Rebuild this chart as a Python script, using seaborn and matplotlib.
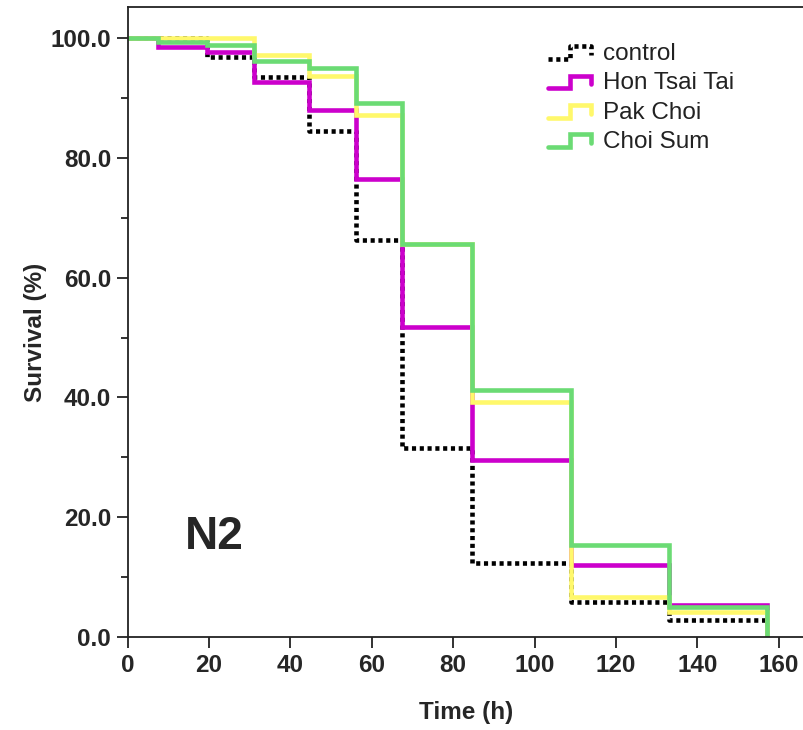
import matplotlib
matplotlib.use('Agg')
import matplotlib.pyplot as plt
import seaborn as sns
import pandas as pd
from matplotlib.lines import Line2D
from matplotlib.legend_handler import HandlerBase
from matplotlib.ticker import FormatStrFormatter, MultipleLocator

# ---- data ----
times = [0, 7.5, 19.5, 31, 44.5, 56, 67.5, 84.5, 109, 133, 157]
control = [100, 100, 96.8, 93.5, 84.5, 66.3, 31.5, 12.4, 5.9, 2.9, 0]
hon_tsai_tai = [100, 98.5, 97.7, 92.7, 88.0, 76.4, 51.8, 29.6, 12.1, 5.4, 0]
pak_choi = [100, 100, 100, 97.2, 93.6, 87.1, 65.6, 39.2, 6.7, 4.2, 0]
choi_sum = [100, 99.3, 98.9, 96.2, 95.0, 89.1, 65.7, 41.2, 15.3, 5.0, 0]
groups = ['control', 'Hon Tsai Tai', 'Pak Choi', 'Choi Sum']
colors = ['#000000', '#CC00CC', '#FFF86B', '#6BDB74']
x_ticks = [0, 20, 40, 60, 80, 100, 120, 140, 160]
y_ticks = [0, 20, 40, 60, 80, 100]

series = [control, hon_tsai_tai, pak_choi, choi_sum]
df = pd.concat([
    pd.DataFrame({'Time (h)': times, 'Survival (%)': vals, 'group': g})
    for g, vals in zip(groups, series)
], ignore_index=True)

sns.set_style('white')
plt.rcParams['font.family'] = ['Liberation Sans', 'DejaVu Sans']

fig = plt.figure(figsize=(8.04, 7.30), dpi=100)
ax = fig.add_axes([127.7 / 804, 1 - 637 / 730, 1 - 127.7 / 804, (637 - 7) / 730])

palette = dict(zip(groups, colors))
dot = (0.9, 0.8)
dashes = {'control': dot, 'Hon Tsai Tai': '', 'Pak Choi': '', 'Choi Sum': ''}
sns.lineplot(data=df, x='Time (h)', y='Survival (%)', hue='group', style='group',
             hue_order=groups, style_order=groups, palette=palette, dashes=dashes,
             drawstyle='steps-post', estimator=None, sort=False, linewidth=3.3,
             legend=False, ax=ax)
for ln in ax.get_lines():
    ln.set_dash_capstyle('butt')
    ln.set_solid_joinstyle('miter')

ax.set_xlim(0, 166.2)
ax.set_ylim(0, 105.2)
ax.set_xticks(x_ticks)
ax.set_yticks(y_ticks)
ax.yaxis.set_minor_locator(MultipleLocator(10))
ax.yaxis.set_major_formatter(FormatStrFormatter('%.1f'))

for s in ['left', 'bottom', 'top']:
    ax.spines[s].set_visible(True)
    ax.spines[s].set_color('#222222')
    ax.spines[s].set_linewidth(1.3)
ax.spines['right'].set_visible(False)

ax.tick_params(axis='both', which='major', direction='out', length=8, width=1.3,
               color='#222222', labelsize=17.5, pad=4)
ax.tick_params(axis='y', which='minor', direction='out', length=5, width=1.3,
               color='#222222', left=True)
ax.tick_params(axis='x', bottom=True)
ax.tick_params(axis='y', left=True)
for lab in ax.get_xticklabels() + ax.get_yticklabels():
    lab.set_fontweight('bold')

ax.set_xlabel('Time (h)', fontsize=17.5, fontweight='bold')
ax.set_ylabel('Survival (%)', fontsize=17.5, fontweight='bold')
ax.xaxis.set_label_coords(0.5, -0.101)
ax.yaxis.set_label_coords(-0.12, 0.484)

ax.text(21.4, 16.7, 'N2', fontsize=33, fontweight='bold', ha='center', va='center')


class StepHandler(HandlerBase):
    def create_artists(self, legend, orig_handle, xdescent, ydescent,
                       width, height, fontsize, trans):
        x0, y0 = -xdescent, -ydescent
        xs = [x0, x0 + 0.52 * width, x0 + 0.52 * width, x0 + width, x0 + width]
        ys = [y0 + 0.05 * height, y0 + 0.05 * height, y0 + 0.8 * height,
              y0 + 0.8 * height, y0 + 0.3 * height]
        line = Line2D(xs, ys)
        self.update_prop(line, orig_handle, legend)
        line.set_transform(trans)
        return [line]


handles = []
for g, c in zip(groups, colors):
    ls = (0, dot) if g == 'control' else '-'
    handles.append(Line2D([], [], color=c, linestyle=ls, linewidth=3.3,
                          dash_capstyle='butt', solid_joinstyle='miter'))
leg = ax.legend(handles, groups, handler_map={Line2D: StepHandler()},
                loc='upper left', bbox_to_anchor=(548 / 804, 1 - 43 / 730),
                bbox_transform=fig.transFigure, frameon=False, fontsize=17.5,
                handlelength=1.75, handletextpad=0.5, labelspacing=0.3,
                borderpad=0, borderaxespad=0)
for t in leg.get_texts():
    t.set_color('#222222')

fig.savefig('out.png', dpi=100)
